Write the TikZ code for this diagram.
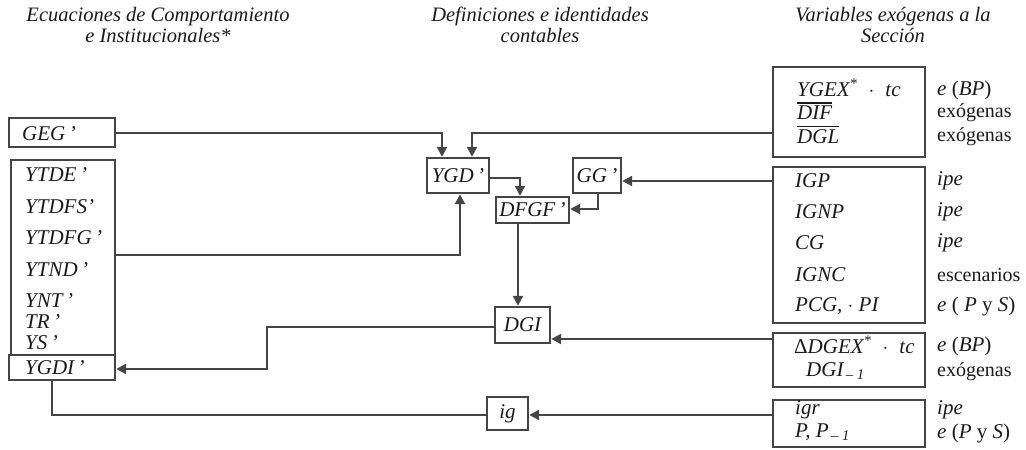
\documentclass[tikz,border=0pt]{standalone}
\usepackage{fontspec}
\setmainfont{Liberation Serif}
\usetikzlibrary{arrows.meta}
\definecolor{ink}{HTML}{454545}
\definecolor{txt}{HTML}{1A1A1A}
\tikzset{
  box/.style={draw=ink, line width=2.4pt, rectangle, inner sep=0pt},
  conn/.style={draw=ink, line width=2.2pt},
  arr/.style={conn, -{Triangle[length=10pt,width=10pt]}},
  lbl/.style={inner sep=0pt, anchor=west, text=txt, font=\fontsize{21}{21}\selectfont\itshape},
  rlbl/.style={inner sep=0pt, anchor=west, text=txt, font=\fontsize{20}{20}\selectfont},
  hdr/.style={inner sep=0pt, text=txt, align=center, font=\fontsize{20.5}{21}\selectfont\itshape},
}
\newcommand{\ovl}[1]{\setbox0\hbox{#1}\vbox{\hrule width\wd0 height 1.3pt\kern2.5pt\box0}}
\begin{document}
\begin{tikzpicture}[x=1pt,y=-1pt]
\useasboundingbox (0,0) rectangle (1026,450);
% headers
\node[hdr] (h1) at (158,25) {Ecuaciones de Comportamiento\\e Institucionales*};
\node[hdr] (h2) at (540,25) {Definiciones e identidades\\contables};
\node[hdr] (h3) at (893,25) {Variables exógenas a la\\Sección};
% left boxes
\node[box, minimum width=106pt, minimum height=29pt] (GEG) at (62,132.5) {};
\node[lbl] at (22,134) {GEG\,'};
\node[box, minimum width=104pt, minimum height=195pt] (LB) at (63,257.5) {};
\node[box, minimum width=106pt, minimum height=25pt] (YGDI) at (62,367.5) {};
\node[lbl] at (25,175) {YTDE\,'};
\node[lbl] at (25,207) {YTDFS'};
\node[lbl] at (25,238) {YTDFG\,'};
\node[lbl] at (25,270) {YTND\,'};
\node[lbl] at (25,301) {YNT\,'};
\node[lbl] at (25,322) {TR\,'};
\node[lbl] at (25,343) {YS\,'};
\node[lbl] at (25,368) {YGDI\,'};
% middle boxes
\node[box, minimum width=62pt, minimum height=35pt] (YGD) at (458,175.5) {};
\node[lbl, anchor=center] at (458,176) {YGD\,'};
\node[box, minimum width=73pt, minimum height=26pt] (DFGF) at (532.5,210) {};
\node[lbl, anchor=center] at (532.5,210) {DFGF\,'};
\node[box, minimum width=48pt, minimum height=35pt] (GG) at (597,175.5) {};
\node[lbl, anchor=center] at (597,176) {GG\,'};
\node[box, minimum width=55pt, minimum height=36pt] (DGI) at (522.5,325) {};
\node[lbl, anchor=center] at (522.5,325) {DGI};
\node[box, minimum width=41pt, minimum height=33pt] (ig) at (507.5,413.5) {};
\node[lbl, anchor=center] at (507.5,414) {ig};
% right boxes
\node[box, minimum width=152pt, minimum height=90pt] (R1) at (849,112) {};
\node[box, minimum width=152pt, minimum height=156pt] (R2) at (849,245) {};
\node[box, minimum width=152pt, minimum height=54pt] (R3) at (849,360) {};
\node[box, minimum width=152pt, minimum height=47pt] (R4) at (849,423.5) {};
\node[lbl] at (797,88) {YGEX\textsuperscript{*}\; $\cdot$\; tc};
\node[lbl] at (797,111) {\ovl{DIF}};
\node[lbl] at (797,135) {\ovl{DGL}};
\node[lbl] at (795,181) {IGP};
\node[lbl] at (795,212) {IGNP};
\node[lbl] at (795,243) {CG};
\node[lbl] at (795,275) {IGNC};
\node[lbl] at (795,306) {PCG, $\cdot$ PI};
\node[lbl] at (794,345) {\upshape Δ\itshape DGEX\textsuperscript{*}\; $\cdot$\; tc};
\node[lbl] at (806,371) {DGI\textsubscript{\,– 1}};
\node[lbl] at (795,410) {igr};
\node[lbl] at (795,432) {P, P\textsubscript{\,– 1}};
% right labels
\node[lbl] at (937,90) {e \upshape(\itshape BP\upshape)};
\node[rlbl] at (937,113) {exógenas};
\node[rlbl] at (937,137) {exógenas};
\node[lbl] at (937,181) {ipe};
\node[lbl] at (937,212) {ipe};
\node[lbl] at (937,243) {ipe};
\node[rlbl] at (937,275) {escenarios};
\node[lbl] at (937,306) {e \upshape( \itshape P \upshape y \itshape S\upshape)};
\node[lbl] at (937,346) {e \upshape(\itshape BP\upshape)};
\node[rlbl] at (937,372) {exógenas};
\node[lbl] at (937,410) {ipe};
\node[lbl] at (937,433) {e \upshape(\itshape P \upshape y \itshape S\upshape)};
% connectors
\draw[arr] (GEG.east |- 0,133) -| (YGD.north -| 442,0);
\draw[arr] (R1.west |- 0,133) -| (YGD.north -| 472,0);
\draw[arr] (LB.east |- 0,255) -| (YGD.south -| 460,0);
\draw[arr] (YGD.east |- 0,178) -| (DFGF.north -| 520,0);
\draw[arr] (R2.west |- 0,181) -- (GG.east |- 0,181);
\draw[arr] (GG.south -| 598,0) |- (DFGF.east |- 0,209);
\draw[arr] (DFGF.south -| 518,0) -- (DGI.north -| 518,0);
\draw[arr] (R3.west |- 0,339) -- (DGI.east |- 0,339);
\coordinate (c1) at (267,327);
\coordinate (c2) at (267,369);
\draw[arr] (DGI.west |- 0,327) -- (c1) -- (c2) -- (YGDI.east |- 0,369);
\draw[conn] (YGDI.south -| 52,0) |- (ig.west |- 0,415);
\draw[arr] (R4.west |- 0,415) -- (ig.east |- 0,415);
\end{tikzpicture}
\end{document}
